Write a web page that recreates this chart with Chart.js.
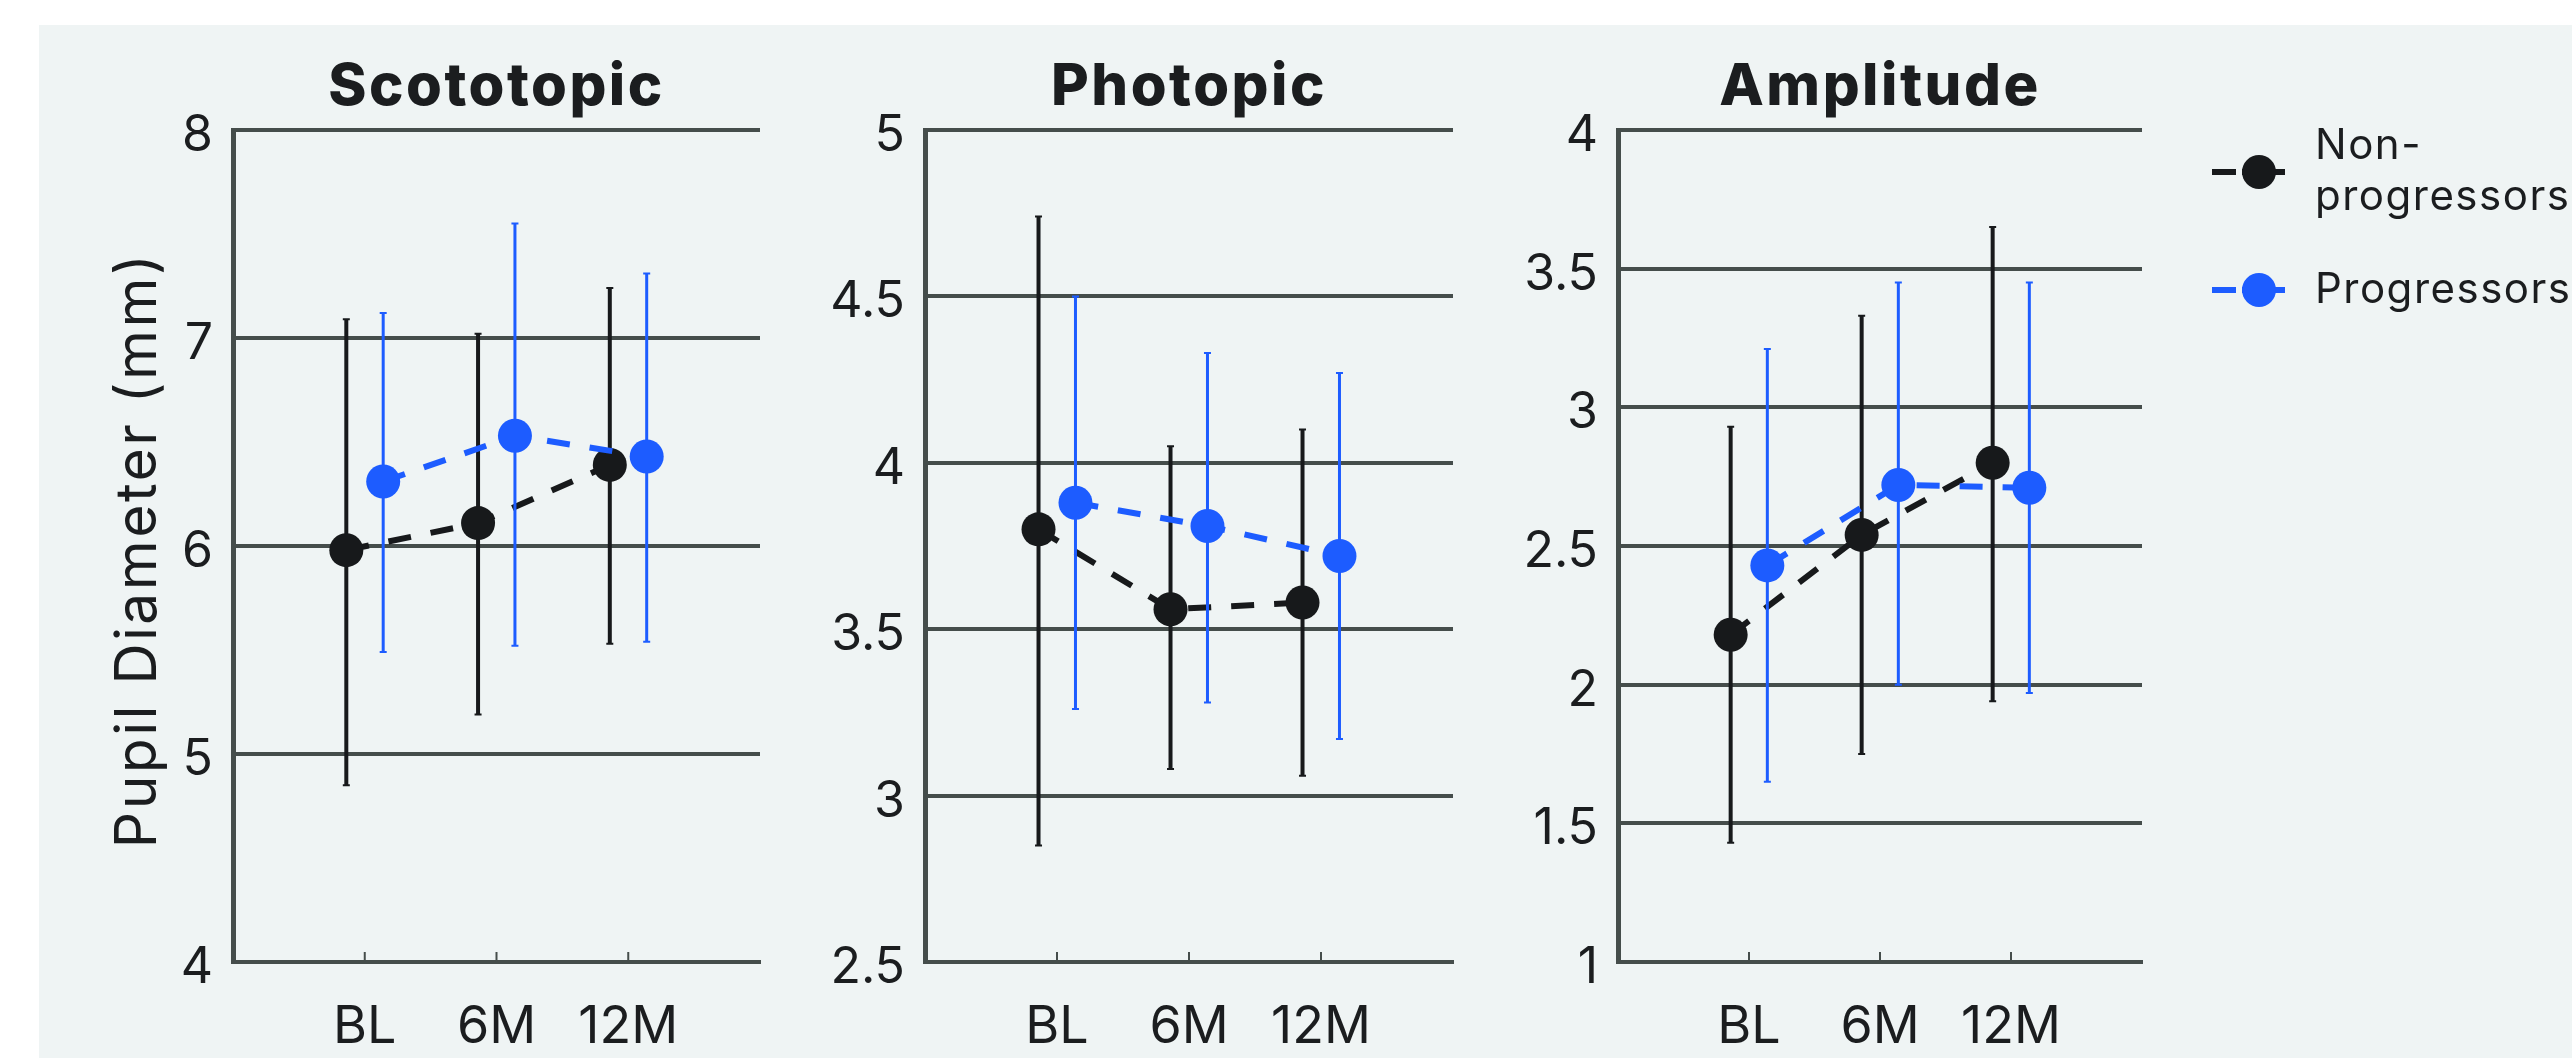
<!DOCTYPE html>
<html>
<head>
<meta charset="utf-8">
<script src="https://cdn.jsdelivr.net/npm/chart.js@4.4.0/dist/chart.umd.min.js"></script>
<style>
  html, body { margin: 0; padding: 0; background: #ffffff; }
  body { width: 2572px; height: 1058px; position: relative; overflow: hidden; }
  #panel { position: absolute; left: 39px; top: 25px; right: 0; bottom: 0; background: #eff4f4; }
  .box { position: absolute; top: 0; height: 1058px; }
  #box1 { left: 0; width: 800px; }
  #box2 { left: 800px; width: 700px; }
  #box3 { left: 1500px; width: 1072px; }
</style>
</head>
<body>
<div id="panel"></div>
<div class="box" id="box1"><canvas id="scotopicChart"></canvas></div>
<div class="box" id="box2"><canvas id="photopicChart"></canvas></div>
<div class="box" id="box3"><canvas id="amplitudeChart"></canvas></div>
<script>
const timepoints = ['BL', '6M', '12M'];
const groups = ['Non-progressors', 'Progressors'];

// Scotopic (mean, lower and upper end of error bar)
const scotopicNonMean = [5.98, 6.11, 6.39];
const scotopicNonLow = [4.85, 5.19, 5.53];
const scotopicNonHigh = [7.09, 7.02, 7.24];
const scotopicProgMean = [6.31, 6.53, 6.43];
const scotopicProgLow = [5.49, 5.52, 5.54];
const scotopicProgHigh = [7.12, 7.55, 7.31];
const scotopicTicks = [4, 5, 6, 7, 8];

// Photopic
const photopicNonMean = [3.80, 3.56, 3.58];
const photopicNonLow = [2.85, 3.08, 3.06];
const photopicNonHigh = [4.74, 4.05, 4.10];
const photopicProgMean = [3.88, 3.81, 3.72];
const photopicProgLow = [3.26, 3.28, 3.17];
const photopicProgHigh = [4.50, 4.33, 4.27];
const photopicTicks = [2.5, 3, 3.5, 4, 4.5, 5];

// Amplitude
const amplitudeNonMean = [2.18, 2.54, 2.80];
const amplitudeNonLow = [1.43, 1.75, 1.94];
const amplitudeNonHigh = [2.93, 3.33, 3.65];
const amplitudeProgMean = [2.43, 2.72, 2.71];
const amplitudeProgLow = [1.65, 2.00, 1.97];
const amplitudeProgHigh = [3.21, 3.45, 3.45];
const amplitudeTicks = [1, 1.5, 2, 2.5, 3, 3.5, 4];

const FONT = 'Inter, "Noto Sans", sans-serif';
const textColor = '#1b1d1f';
const gridColor = '#454d4b';
const black = '#17191b';
const blue = '#1d5cff';
const dodge = 0.14;

// vertical error bars, drawn just before each dataset
const errorBars = {
    id: 'errorBars',
    beforeDatasetDraw(chart, args) {
        const ds = chart.data.datasets[args.index];
        const { ctx, scales: { x, y } } = chart;
        ctx.save();
        ctx.strokeStyle = ds.borderColor;
        ds.data.forEach((p, i) => {
            const px = x.getPixelForValue(p.x);
            const top = y.getPixelForValue(ds.errHigh[i]);
            const bot = y.getPixelForValue(ds.errLow[i]);
            ctx.lineWidth = ds.errWidth;
            ctx.beginPath();
            ctx.moveTo(px, top);
            ctx.lineTo(px, bot);
            ctx.stroke();
            ctx.lineWidth = 2;
            ctx.beginPath();
            ctx.moveTo(px - 3.5, top); ctx.lineTo(px + 3.5, top);
            ctx.moveTo(px - 3.5, bot); ctx.lineTo(px + 3.5, bot);
            ctx.stroke();
        });
        ctx.restore();
    }
};

// small inward tick marks on the x axis
const innerTicks = {
    id: 'innerTicks',
    beforeDatasetsDraw(chart) {
        const { ctx, chartArea, scales: { x } } = chart;
        ctx.save();
        ctx.strokeStyle = gridColor;
        ctx.lineWidth = 2;
        x.ticks.forEach(t => {
            const px = x.getPixelForValue(t.value);
            ctx.beginPath();
            ctx.moveTo(px, chartArea.bottom);
            ctx.lineTo(px, chartArea.bottom - 10);
            ctx.stroke();
        });
        ctx.restore();
    }
};

// panel heading and the rotated y title (letter-spaced like the original)
const panelText = {
    id: 'panelText',
    afterDraw(chart, args, opts) {
        const { ctx, chartArea } = chart;
        ctx.save();
        ctx.fillStyle = textColor;
        ctx.letterSpacing = '2.5px';
        ctx.font = '800 58px ' + FONT;
        ctx.textAlign = 'center';
        ctx.textBaseline = 'alphabetic';
        ctx.fillText(opts.title, (chartArea.left + chartArea.right) / 2, chartArea.top - 25);
        if (opts.yTitle) {
            ctx.font = '400 57px ' + FONT;
            ctx.letterSpacing = '2.5px';
            ctx.translate(chartArea.left - 77, (chartArea.top + chartArea.bottom) / 2 + 4);
            ctx.rotate(-Math.PI / 2);
            ctx.fillText(opts.yTitle, 0, 0);
        }
        ctx.restore();
    }
};

const sideLegend = {
    id: 'sideLegend',
    afterDraw(chart, args, opts) {
        if (!opts.display) return;
        const { ctx, chartArea } = chart;
        const x0 = chartArea.right + 70;
        const rowsY = [chartArea.top + 42, chartArea.top + 160];
        ctx.save();
        chart.data.datasets.forEach((ds, i) => {
            const y = rowsY[i];
            ctx.strokeStyle = ds.borderColor;
            ctx.lineWidth = 6;
            ctx.beginPath();
            ctx.moveTo(x0, y); ctx.lineTo(x0 + 24, y);
            ctx.moveTo(x0 + 30, y); ctx.lineTo(x0 + 73, y);
            ctx.stroke();
            ctx.fillStyle = ds.backgroundColor;
            ctx.beginPath();
            ctx.arc(x0 + 47, y, 17, 0, Math.PI * 2);
            ctx.fill();
            const lines = ds.label.split(/(?<=-)/);
            ctx.fillStyle = textColor;
            ctx.font = '42px ' + FONT;
            ctx.letterSpacing = '1.5px';
            ctx.textBaseline = 'middle';
            ctx.textAlign = 'left';
            lines.forEach((txt, k) => {
                const ty = y + (k - (lines.length - 1) / 2) * 51;
                ctx.fillText(txt, x0 + 103, ty);
            });
        });
        ctx.restore();
    }
};

function toPoints(values, shift) {
    return values.map((v, i) => ({ x: i + 1 + shift, y: v }));
}

function makeChart(id, title, yTicks, non, prog, cfg) {
    const ctx = document.getElementById(id).getContext('2d');
    const series = [
        { label: groups[0], data: toPoints(non[0], -dodge), errLow: non[1], errHigh: non[2], color: black, errWidth: 4, order: 2 },
        { label: groups[1], data: toPoints(prog[0], dodge), errLow: prog[1], errHigh: prog[2], color: blue, errWidth: 3, order: 1 }
    ];
    return new Chart(ctx, {
        type: 'line',
        data: {
            datasets: series.map(s => ({
                label: s.label,
                data: s.data,
                errLow: s.errLow,
                errHigh: s.errHigh,
                errWidth: s.errWidth,
                order: s.order,
                borderColor: s.color,
                backgroundColor: s.color,
                pointBackgroundColor: s.color,
                pointBorderColor: s.color,
                borderWidth: 6,
                borderDash: [23, 20],
                pointRadius: 17,
                pointHoverRadius: 17,
                pointBorderWidth: 0,
                tension: 0,
                fill: false
            }))
        },
        options: {
            responsive: true,
            maintainAspectRatio: false,
            animation: false,
            events: [],
            layout: { padding: { top: 130, left: 0, right: cfg.padRight, bottom: 0 } },
            scales: {
                x: {
                    type: 'linear',
                    min: 0,
                    max: timepoints.length + 1,
                    afterBuildTicks: s => { s.ticks = timepoints.map((t, i) => ({ value: i + 1 })); },
                    afterFit: s => { s.height = 96; },
                    ticks: {
                        color: textColor,
                        font: { family: FONT, size: 52 },
                        padding: 34,
                        maxRotation: 0,
                        autoSkip: false,
                        callback: v => timepoints[v - 1]
                    },
                    grid: { display: false, drawTicks: false },
                    border: { display: true, color: gridColor, width: 4 }
                },
                y: {
                    min: yTicks[0],
                    max: yTicks[yTicks.length - 1],
                    afterBuildTicks: s => { s.ticks = yTicks.map(v => ({ value: v })); },
                    afterFit: s => { s.width = cfg.yWidth; },
                    ticks: {
                        color: textColor,
                        font: { family: FONT, size: 50 },
                        padding: 20,
                        labelOffset: 6,
                        callback: v => String(v)
                    },
                    grid: { color: gridColor, lineWidth: 4, drawTicks: false },
                    border: { display: true, color: gridColor, width: 5 }
                }
            },
            plugins: {
                legend: { display: false },
                tooltip: { enabled: false },
                panelText: { title: title, yTitle: cfg.yTitle },
                sideLegend: { display: !!cfg.legend }
            }
        },
        plugins: [errorBars, innerTicks, panelText, sideLegend]
    });
}

makeChart('scotopicChart', 'Scototopic', scotopicTicks,
    [scotopicNonMean, scotopicNonLow, scotopicNonHigh],
    [scotopicProgMean, scotopicProgLow, scotopicProgHigh],
    { yWidth: 233, padRight: 40, yTitle: 'Pupil Diameter (mm)' });

makeChart('photopicChart', 'Photopic', photopicTicks,
    [photopicNonMean, photopicNonLow, photopicNonHigh],
    [photopicProgMean, photopicProgLow, photopicProgHigh],
    { yWidth: 125, padRight: 47 });

makeChart('amplitudeChart', 'Amplitude', amplitudeTicks,
    [amplitudeNonMean, amplitudeNonLow, amplitudeNonHigh],
    [amplitudeProgMean, amplitudeProgLow, amplitudeProgHigh],
    { yWidth: 118, padRight: 430, legend: true });
</script>
</body>
</html>
